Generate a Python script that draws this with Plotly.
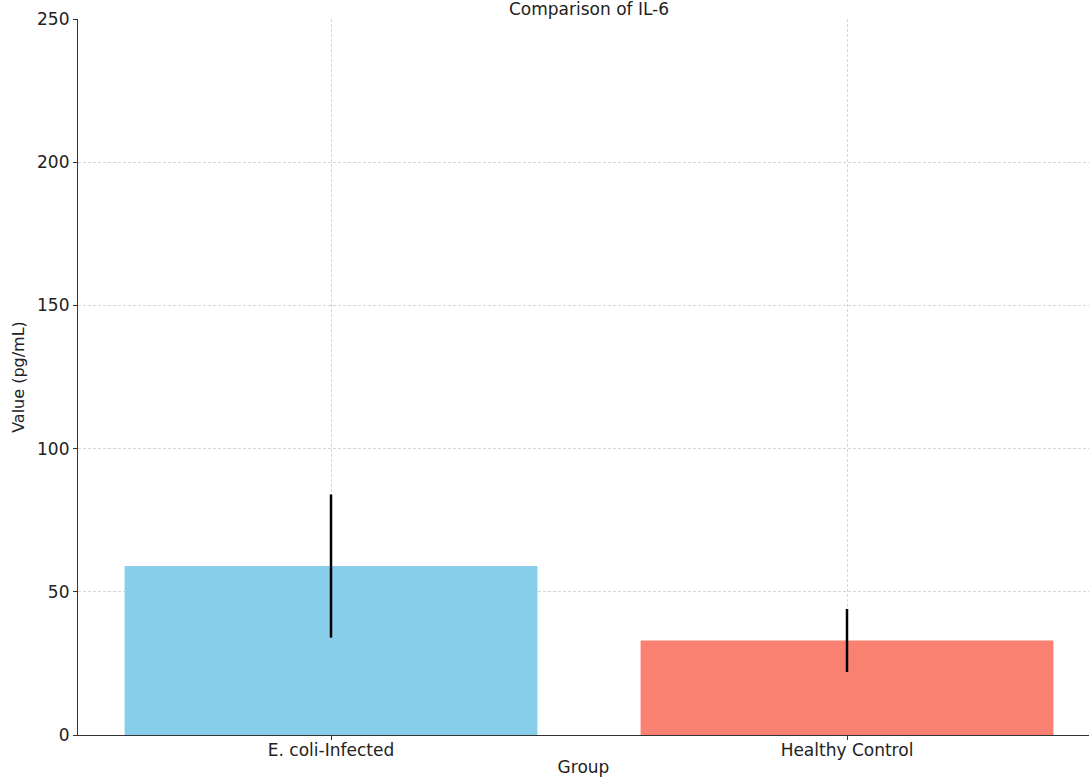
import plotly.graph_objects as go

groups = ["E. coli-Infected", "Healthy Control"]
means = [59, 33]
errors = [25, 11]
colors = ["#87CEEB", "#FA8072"]
y_ticks = [0, 50, 100, 150, 200, 250]

FONT = "DejaVu Sans"

fig = go.Figure()
fig.add_trace(go.Bar(
    x=groups, y=means,
    marker=dict(color=colors, line=dict(width=0)),
    error_y=dict(type="data", array=errors, color="black", thickness=2.5, width=0, visible=True),
    showlegend=False,
))

fig.update_layout(
    width=1089, height=779,
    margin=dict(l=78, r=0, t=19, b=44, pad=0),
    paper_bgcolor="white", plot_bgcolor="white",
    font=dict(family=FONT, size=17, color="#222"),
    bargap=0.2,
    title=dict(text="Comparison of IL-6", x=589 / 1089, xanchor="center",
               yref="container", y=1 - 9 / 779, yanchor="middle", pad=dict(t=0, b=0),
               font=dict(family=FONT, size=17, color="#222")),
)
fig.update_xaxes(
    range=[-0.4903, 1.469],
    showgrid=True, gridcolor="#d6d6d6", griddash="3px,2px", gridwidth=0.8,
    showline=True, linecolor="#333", linewidth=1.2,
    ticks="outside", ticklen=4, tickcolor="#333",
    ticklabelstandoff=-5,
    title=dict(text="Group", standoff=2, font=dict(size=17)),
    layer="above traces",
)
fig.update_yaxes(
    range=[0, 250], tickvals=y_ticks,
    showgrid=True, gridcolor="#d6d6d6", griddash="3px,2px", gridwidth=0.8,
    showline=True, linecolor="#333", linewidth=1.2,
    ticks="outside", ticklen=4, tickcolor="#333",
    zeroline=False,
    title=dict(text="Value (pg/mL)", standoff=8, font=dict(size=16)),
    layer="above traces",
)

fig.write_html("out.html", config={"displayModeBar": False},
               post_script="document.body.style.margin='0';")
